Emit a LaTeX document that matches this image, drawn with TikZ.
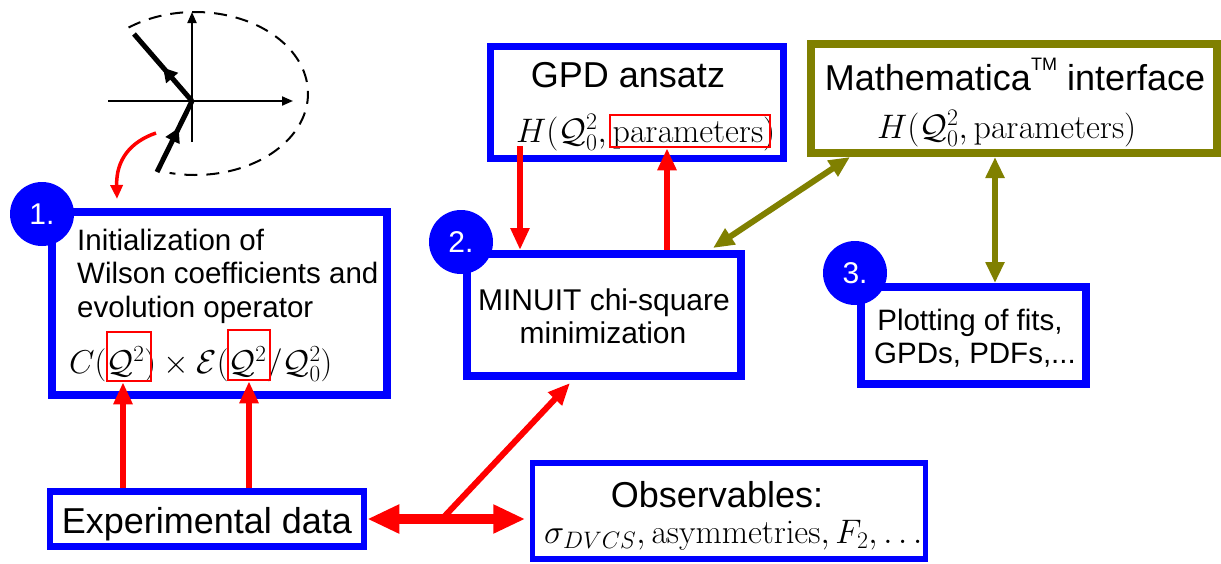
\RequirePackage{fix-cm}
\documentclass[tikz,border=0pt]{standalone}
\usepackage[no-math]{fontspec}
\newfontfamily\arial{Liberation Sans}
\usetikzlibrary{arrows.meta,decorations.markings}
\definecolor{pblue}{RGB}{0,0,255}
\definecolor{pred}{RGB}{255,0,0}
\definecolor{polive}{RGB}{128,128,0}
\newcommand\fsz[1]{\fontsize{#1}{#1}\selectfont}

\begin{document}
\begin{tikzpicture}[x=1pt,y=-1pt,
  box/.style={draw=pblue, fill=white, inner sep=0pt},
  lbl/.style={font=\arial\fsz{36}, inner sep=0pt, anchor=base},
  lbll/.style={font=\arial\fsz{29.5}, inner sep=0pt, anchor=base west},
  mth/.style={font=\fsz{34}, inner sep=0pt, anchor=base west},
  numdisc/.style={circle, fill=pblue, text=white, minimum size=64pt, inner sep=0pt, font=\arial\fsz{30}},
  hl/.style={draw=pred, line width=2.5pt, inner sep=0pt},
  redarr/.style={draw=pred, line width=6pt, -{Triangle[width=18pt,length=22pt]}},
  dblarr/.style={draw=pred, line width=10pt, {Triangle[width=27pt,length=32pt]}-{Triangle[width=27pt,length=32pt]}},
  olarr/.style={draw=polive, line width=6pt, {Triangle[width=18pt,length=21pt]}-{Triangle[width=18pt,length=21pt]}},
  midarrow/.style={line width=5pt, postaction={decorate}, decoration={markings, mark=at position #1 with {\arrow{Triangle[width=15pt,length=14pt]}}}},
]
\useasboundingbox (0,0) rectangle (1221,563);

% ---- sketch of the integration contour
\draw[line width=2pt, -{Triangle[width=9pt,length=11pt]}] (108,101) -- (293,101);
\draw[line width=2pt, -{Triangle[width=9pt,length=11pt]}] (192,142) -- (192,12);
\draw[line width=2pt, dash pattern=on 13pt off 9pt]
  plot[domain=-126:103, samples=90, smooth] ({195+113*cos(\x)},{93.5+81.5*sin(\x)});
\draw[midarrow=0.5] (192,101) -- (134,34);
\draw[midarrow=0.62] (157,172) -- (192,101);
\draw[pred, line width=3.5pt, -{Triangle[width=12pt,length=14pt]}]
  (156,133) .. controls (130,142) and (116,160) .. (117,199);

% ---- boxes
\node[box, line width=8pt, minimum width=335pt, minimum height=183pt] (init) at (219.5,303.5) {};
\node[box, line width=7pt, minimum width=293pt, minimum height=112pt] (gpd) at (637,102.5) {};
\node[box, line width=8pt, minimum width=274pt, minimum height=122pt] (minuit) at (604,315) {};
\node[box, draw=polive, line width=8pt, minimum width=406pt, minimum height=109pt] (mma) at (1014,98.5) {};
\node[box, line width=8pt, minimum width=225pt, minimum height=97pt] (plot) at (973.5,335.5) {};
\node[box, line width=6.5pt, minimum width=314pt, minimum height=55pt] (expd) at (207,519) {};
\node[box, line width=5.5pt, minimum width=393pt, minimum height=96pt] (obs) at (729,511) {};

% ---- texts
\node[lbll] (initA) at (77,250) {Initialization of};
\node[lbll] (initB) at (77,283) {Wilson coefficients and};
\node[lbll] (initC) at (77,317) {evolution operator};
\node[mth, font=\fsz{33}] (initM) at (69,373) {$C(\mathcal{Q}^2)\times\mathcal{E}(\mathcal{Q}^2/\mathcal{Q}_0^2)$};
\node[lbl] (gpdT) at (628,87) {GPD ansatz};
\node[mth] (gpdM) at (516,142) {$H(\mathcal{Q}_0^2,\mathrm{parameters})$};
\node[lbl] (mmaT) at (1015,90) {Mathematica\raisebox{20pt}{\fsz{18}TM} interface};
\node[mth] (mmaM) at (877,138) {$H(\mathcal{Q}_0^2,\mathrm{parameters})$};
\node[lbl, font=\arial\fsz{30}] (minA) at (604,310) {MINUIT chi-square};
\node[lbl, font=\arial\fsz{30}] (minB) at (603,343) {minimization};
\node[lbl, font=\arial\fsz{29.5}] (plotA) at (970,330) {Plotting of fits,};
\node[lbl, font=\arial\fsz{29.5}] (plotB) at (975,363) {GPDs, PDFs,...};
\node[lbl] (expT) at (207,533) {Experimental data};
\node[lbl] (obsT) at (717,507) {Observables:};
\node[mth] (obsM) at (544,543) {$\sigma_{DVCS},\mathrm{asymmetries},F_2,\ldots$};

% ---- highlighted arguments
\node[hl, minimum width=44pt, minimum height=49pt] (hlA) at (129,356.5) {};
\node[hl, minimum width=42pt, minimum height=50pt] (hlB) at (249,355) {};
\node[hl, minimum width=160pt, minimum height=32pt] (hlP) at (690,131) {};

% ---- connectors
\coordinate (a1) at ([xshift=-6pt]hlA.south);
\draw[redarr] (a1 |- expd.north) -- (a1);
\draw[redarr] (hlB.south |- expd.north) -- (hlB.south);
\coordinate (hf) at (520,146);
\draw[redarr] (hf) -- (hf |- minuit.north);
\coordinate (pu) at ([xshift=-23pt]hlP.south);
\draw[redarr] (pu |- minuit.north) -- (pu);
\draw[dblarr, shorten >=4.5pt] (expd.east) -- (expd.east -| obs.west);
\coordinate (br) at (442,519);
\draw[redarr] (br) -- ([xshift=-34pt,yshift=-3pt]minuit.south);
\draw[olarr] ([xshift=-32pt,yshift=2pt]minuit.north east) -- ([xshift=43pt]mma.south west);
\coordinate (ov) at (995,220);
\draw[olarr] (ov |- mma.south) -- (ov |- plot.north);

% ---- step numbers
\node[numdisc] (n1) at (42,214) {1.};
\node[numdisc] (n2) at (461,242) {2.};
\node[numdisc] (n3) at (855,273) {3.};
\end{tikzpicture}
\end{document}
